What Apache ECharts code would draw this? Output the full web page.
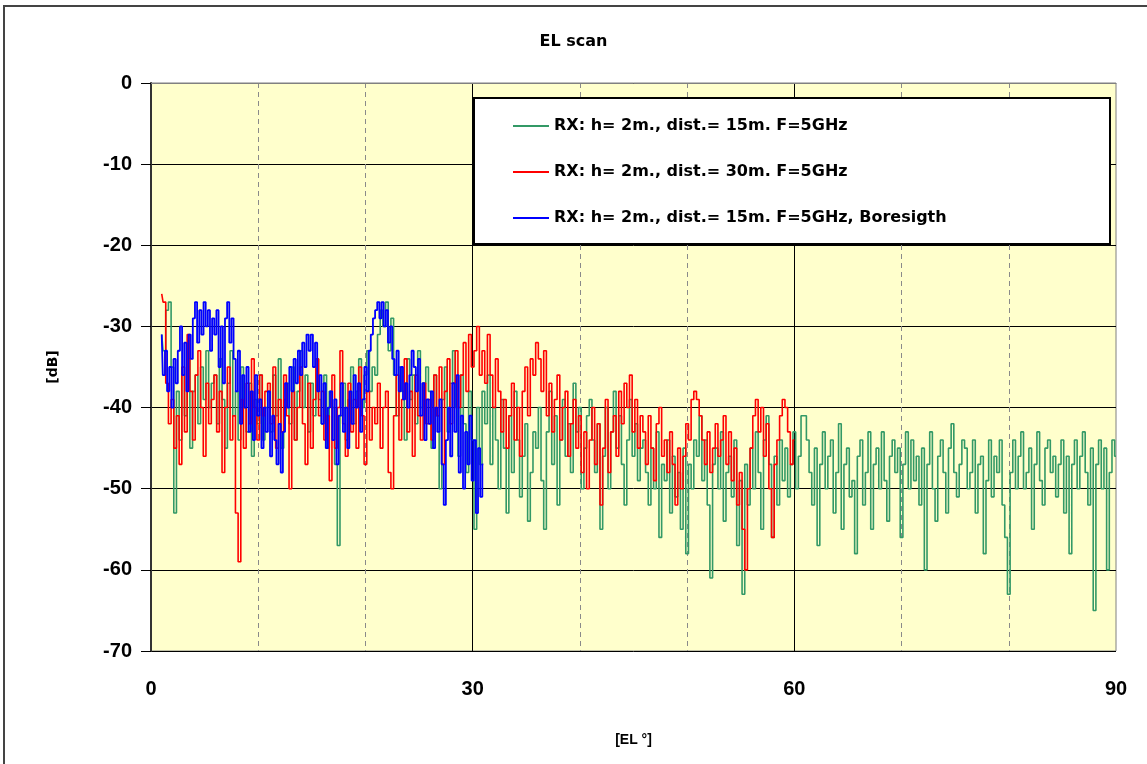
<!DOCTYPE html>
<html>
<head>
<meta charset="utf-8">
<title>EL scan</title>
<script src="https://cdn.jsdelivr.net/npm/echarts@6/dist/echarts.min.js"></script>
<style>
  html, body { margin: 0; padding: 0; background: #fff; }
  #chart { width: 1147px; height: 764px; }
</style>
</head>
<body>
<div id="chart"></div>
<script>
// sample spacing of each trace (degrees of elevation)
var greenStart = 1, greenStep = 0.25;
var redStart = 1, redStep = 0.25;
var blueStart = 1, blueStep = 0.2;

var seriesNames = [
  'RX: h= 2m., dist.= 15m. F=5GHz',
  'RX: h= 2m., dist.= 30m. F=5GHz',
  'RX: h= 2m., dist.= 15m. F=5GHz, Boresigth'
];

// dB, 15 m (green), 1..90 deg
var green15 = [
  -31,-33,-28,-27,-35,-53,-38,-44,-36,-41,-34,-45,-38,-36,-42,-35,-39,-33,-40,-37,
  -36,-42,-34,-39,-45,-37,-33,-41,-38,-44,-35,-40,-43,-37,-46,-39,-42,-36,-44,-40,
  -38,-43,-36,-41,-34,-45,-39,-37,-42,-35,-44,-38,-33,-40,-36,-43,-37,-41,-34,-39,
  -42,-36,-45,-38,-40,-47,-57,-41,-37,-44,-39,-35,-42,-38,-34,-40,-36,-33,-38,-35,
  -36,-31,-28,-30,-27,-33,-29,-36,-41,-35,-38,-44,-34,-39,-36,-42,-33,-40,-37,-35,
  -38,-45,-36,-41,-50,-39,-35,-43,-37,-33,-40,-46,-36,-42,-48,-38,-44,-55,-40,-47,
  -38,-42,-36,-47,-40,-44,-50,-39,-45,-53,-41,-48,-38,-44,-51,-46,-42,-54,-48,-43,
  -45,-40,-49,-55,-43,-38,-47,-41,-52,-44,-39,-46,-42,-48,-37,-43,-40,-50,-45,-41,
  -39,-44,-48,-42,-55,-46,-40,-50,-43,-38,-45,-41,-47,-52,-44,-39,-46,-42,-49,-45,
  -44,-48,-52,-45,-50,-43,-56,-47,-49,-44,-53,-46,-51,-48,-55,-45,-58,-47,-50,-44,
  -46,-41,-49,-44,-52,-61,-47,-45,-50,-43,-54,-48,-46,-51,-44,-57,-49,-63,-47,-52,
  -45,-50,-43,-48,-55,-44,-41,-47,-56,-46,-52,-44,-49,-45,-51,-47,-43,-50,-46,-41,
  -41,-44,-48,-52,-45,-57,-47,-43,-50,-46,-44,-53,-48,-42,-55,-47,-45,-51,-49,-58,
  -46,-44,-52,-48,-43,-55,-47,-45,-50,-43,-49,-54,-46,-44,-48,-45,-56,-47,-43,-50,
  -44,-49,-46,-52,-45,-60,-47,-43,-50,-54,-46,-44,-48,-53,-45,-42,-48,-51,-47,-44,
  -45,-50,-48,-44,-53,-47,-46,-58,-49,-44,-51,-46,-48,-44,-52,-56,-63,-48,-44,-50,
  -46,-43,-50,-48,-45,-55,-47,-43,-49,-52,-45,-44,-48,-46,-51,-47,-44,-53,-46,-58,
  -47,-44,-50,-46,-43,-48,-52,-45,-65,-47,-44,-50,-45,-60,-48,-44,-46
];

// dB, 30 m (red), 1..60 deg
var red30 = [
  -26,-27,-37,-42,-39,-45,-41,-47,-35,-43,-31,-38,-44,-36,-33,-40,-46,-37,-42,-39,
  -36,-43,-38,-48,-40,-35,-44,-41,-53,-59,-39,-45,-37,-42,-34,-40,-44,-36,-41,-38,
  -37,-42,-35,-45,-39,-43,-36,-41,-50,-38,-44,-40,-35,-42,-47,-37,-45,-39,-34,-41,
  -38,-44,-41,-49,-36,-45,-40,-33,-42,-46,-37,-43,-39,-45,-35,-41,-47,-38,-44,-40,
  -42,-37,-45,-40,-38,-48,-50,-41,-36,-44,-39,-34,-43,-38,-46,-36,-41,-44,-37,-42,
  -39,-44,-36,-41,-35,-47,-38,-34,-42,-37,-33,-40,-36,-32,-38,-31,-35,-33,-30,-36,
  -33,-37,-31,-36,-40,-34,-38,-43,-39,-45,-41,-37,-44,-40,-46,-38,-35,-41,-34,-36,
  -32,-34,-38,-33,-41,-37,-43,-39,-36,-44,-40,-38,-46,-42,-39,-45,-41,-48,-43,-50,
  -44,-40,-47,-42,-52,-45,-39,-48,-43,-41,-46,-38,-42,-37,-40,-36,-43,-39,-45,-41,
  -43,-47,-41,-45,-49,-42,-40,-46,-44,-48,-43,-47,-52,-45,-50,-46,-42,-44,-39,-38,
  -39,-41,-44,-47,-43,-48,-45,-42,-46,-44,-41,-47,-43,-49,-45,-52,-48,-55,-60,-50,
  -45,-41,-39,-43,-40,-46,-42,-50,-56,-47,-44,-41,-39,-40,-43,-47,-44
];

// dB, 15 m boresight (blue), 1..31 deg
var blueBore = [
  -31,-36,-33,-38,-35,-40,-34,-37,-33,-30,-36,-32,-38,-31,-34,-29,-27,-32,-28,-31,-27,-30,-28,-33,-29,
  -31,-28,-35,-30,-37,-29,-27,-32,-29,-34,-38,-33,-42,-36,-40,-35,-43,-38,-44,-36,-41,-39,-45,-40,-43,
  -38,-46,-41,-44,-47,-42,-48,-43,-37,-40,-35,-38,-34,-37,-33,-36,-32,-35,-31,-33,-31,-35,-32,-38,-36,
  -42,-37,-45,-40,-38,-44,-39,-47,-41,-37,-43,-40,-45,-38,-42,-36,-40,-37,-43,-39,-35,-38,-33,-31,-29,
  -28,-27,-29,-27,-30,-28,-32,-30,-34,-36,-33,-38,-35,-39,-37,-40,-36,-33,-35,-38,-34,-41,-37,-44,-39,
  -42,-38,-45,-40,-43,-39,-47,-52,-44,-40,-46,-37,-43,-36,-48,-41,-50,-43,-47,-41,-49,-44,-53,-45,-51,
  -47
];

var xTicks = [0, 30, 60, 90];
var yTicks = [0, -10, -20, -30, -40, -50, -60, -70];

function pairs(start, step, values) {
  return values.map(function(v, i) { return [+(start + i * step).toFixed(2), v]; });
}

var chart = echarts.init(document.getElementById('chart'), null, { renderer: 'canvas' });
var lab = { color: '#000', fontWeight: 'bold', fontFamily: 'Liberation Sans, Arial, sans-serif' };

chart.setOption({
  animation: false,
  backgroundColor: '#fff',
  title: {
    text: 'EL scan',
    left: 'center',
    top: 29,
    textStyle: { fontSize: 16, fontWeight: 'bold', color: '#000', fontFamily: 'DejaVu Sans, sans-serif' }
  },
  graphic: [
    { type: 'rect', z: -1, shape: { x: 4, y: 6, width: 1160, height: 780 },
      style: { fill: 'none', stroke: '#444', lineWidth: 2 } },
    { type: 'rect', z: 50, shape: { x: 474, y: 98, width: 636, height: 146 },
      style: { fill: '#fff', stroke: '#000', lineWidth: 2 } }
  ],
  legend: {
    z: 60,
    orient: 'vertical',
    left: 508,
    top: 111,
    itemWidth: 36,
    itemHeight: 2,
    itemGap: 26,
    icon: 'rect',
    textStyle: { fontSize: 16, fontWeight: 'bold', color: '#000', fontFamily: 'DejaVu Sans, sans-serif', lineHeight: 20 },
    data: seriesNames
  },
  grid: {
    left: 151, top: 83, right: 31, bottom: 113,
    show: true, backgroundColor: '#FFFFCC', borderColor: '#808080', borderWidth: 1
  },
  xAxis: {
    type: 'value',
    min: xTicks[0], max: xTicks[xTicks.length - 1], interval: 30,
    name: '[EL °]', nameLocation: 'middle', nameGap: 82,
    nameTextStyle: { fontSize: 14, fontWeight: 'bold', color: '#000', fontFamily: 'Liberation Sans, sans-serif' },
    axisLine: { show: true, lineStyle: { color: '#808080', width: 1 } },
    axisTick: { show: false },
    axisLabel: { fontSize: 20, margin: 28, color: '#000', fontWeight: 'bold', fontFamily: 'Liberation Sans, sans-serif' },
    splitLine: { show: true, showMinLine: false, showMaxLine: false, lineStyle: { color: '#000', width: 1 } },
    minorTick: { show: false, splitNumber: 3 },
    minorSplitLine: { show: true, lineStyle: { color: '#8a8a8a', width: 1, type: [5, 4] } }
  },
  yAxis: {
    type: 'value',
    min: yTicks[yTicks.length - 1], max: yTicks[0], interval: 10,
    name: '[dB]', nameLocation: 'middle', nameGap: 91,
    nameTextStyle: { fontSize: 14, fontWeight: 'bold', color: '#000', fontFamily: 'DejaVu Sans, sans-serif' },
    axisLine: { show: true, lineStyle: { color: '#333', width: 2 } },
    axisTick: { show: true, inside: false, length: 10, lineStyle: { color: '#000' } },
    axisLabel: Object.assign({ fontSize: 20, margin: 19 }, lab),
    splitLine: { show: true, lineStyle: { color: '#000', width: 1 } }
  },
  series: [
    { name: seriesNames[0], type: 'line', step: 'middle', symbol: 'none', z: 2,
      color: '#339966', lineStyle: { width: 1.6, color: '#339966' },
      data: pairs(greenStart, greenStep, green15) },
    { name: seriesNames[1], type: 'line', step: 'middle', symbol: 'none', z: 3,
      color: '#FF0000', lineStyle: { width: 1.6, color: '#FF0000' },
      data: pairs(redStart, redStep, red30) },
    { name: seriesNames[2], type: 'line', step: 'middle', symbol: 'none', z: 4,
      color: '#0000FF', lineStyle: { width: 1.8, color: '#0000FF' },
      data: pairs(blueStart, blueStep, blueBore) }
  ]
});
window.addEventListener('resize', function() { chart.resize(); });
</script>
</body>
</html>
